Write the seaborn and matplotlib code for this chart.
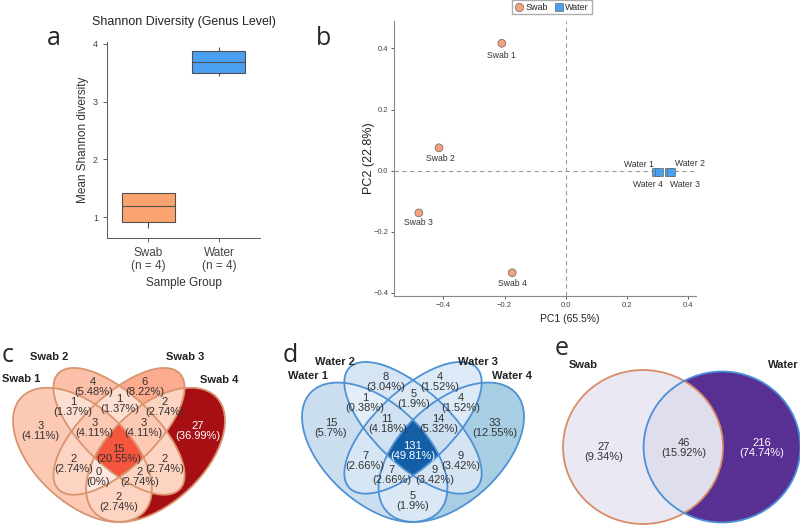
import numpy as np
import pandas as pd
import matplotlib.pyplot as plt
import seaborn as sns
from matplotlib.patches import Ellipse
from matplotlib.lines import Line2D

sns.set_theme(style="ticks")
plt.rcParams['font.family'] = ['Liberation Sans', 'DejaVu Sans']

# ---- data ----
# a: Shannon diversity per sample
shannon_swab = [0.81, 0.96, 1.42, 1.42]
shannon_water = [3.45, 3.50, 3.86, 3.94]
group_ticks = ["Swab\n(n = 4)", "Water\n(n = 4)"]

# b: PCA coordinates
pca_names = ["Swab 1", "Swab 2", "Swab 3", "Swab 4", "Water 1", "Water 2", "Water 3", "Water 4"]
pca_groups = ["Swab"] * 4 + ["Water"] * 4
pc1 = [-0.209, -0.414, -0.480, -0.175, 0.293, 0.337, 0.342, 0.303]
pc2 = [0.417, 0.075, -0.138, -0.334, -0.003, -0.004, -0.004, -0.003]

# c, d: 4-set venn region counts (digits = sets in region)
venn_regions = ["1", "2", "3", "4", "12", "13", "14", "23", "24", "34",
                "123", "124", "134", "234", "1234"]
swab_counts = [3, 4, 6, 27, 1, 2, 2, 1, 2, 2, 3, 2, 0, 3, 15]
water_counts = [15, 8, 4, 33, 1, 7, 5, 5, 9, 4, 11, 9, 7, 14, 131]
swab_sets = ["Swab 1", "Swab 2", "Swab 3", "Swab 4"]
water_sets = ["Water 1", "Water 2", "Water 3", "Water 4"]

# e: swab vs water
pair_sets = ["Swab", "Water"]
pair_regions = ["1", "12", "2"]
pair_counts = [27, 46, 216]

# ---- layout / style ----
W, H = 800, 525
SWAB_COL = "#fca46f"
WATER_COL = "#4a9ff0"
# venn geometry (VennDiagram style ellipses): cx, cy, a, b, angle
quad_shapes = [(0.35, 0.47, 0.35, 0.20, 135), (0.50, 0.57, 0.35, 0.15, 135),
               (0.50, 0.57, 0.35, 0.15, 45), (0.65, 0.47, 0.35, 0.20, 45)]
pair_shapes = [(0.0, 0.0, 1.0, 1.0, 0), (0.9875, 0.0, 0.98, 0.98, 0)]
label_offsets = {"Swab 1": (0, -9), "Swab 2": (1, -8), "Swab 3": (0, -7), "Swab 4": (0, -8),
                 "Water 1": (-12, 5), "Water 2": (15, 6), "Water 3": (10, -9), "Water 4": (-8, -9)}


def rect(l, t, r, b):
    return [l / W, 1 - b / H, (r - l) / W, (b - t) / H]


def in_shape(X, Y, s):
    cx, cy, a, b, ang = s
    t = np.deg2rad(ang)
    u = (X - cx) * np.cos(t) + (Y - cy) * np.sin(t)
    v = -(X - cx) * np.sin(t) + (Y - cy) * np.cos(t)
    return (u / a) ** 2 + (v / b) ** 2 <= 1


def outline(s, n=360):
    cx, cy, a, b, ang = s
    p = np.linspace(0, 2 * np.pi, n, endpoint=False)
    t = np.deg2rad(ang)
    x = cx + a * np.cos(p) * np.cos(t) - b * np.sin(p) * np.sin(t)
    y = cy + a * np.cos(p) * np.sin(t) + b * np.sin(p) * np.cos(t)
    return x, y


def region(masks, key):
    m = np.ones_like(masks[0])
    for i, mk in enumerate(masks):
        m &= mk if str(i + 1) in key else ~mk
    return m


def draw_venn(ax, shapes, keys, counts, cmap, lo, hi, gamma, edges, white_above, fs=8):
    counts = np.asarray(counts, float)
    total = counts.sum()
    frac = (counts / counts.max()) ** gamma
    xlim, ylim = ax.get_xlim(), ax.get_ylim()
    pos = ax.get_position()
    sx = pos.width * W / (xlim[1] - xlim[0])
    sy = pos.height * H / (ylim[1] - ylim[0])

    # fills
    X, Y = np.meshgrid(np.linspace(*xlim, 900), np.linspace(*ylim, 650))
    masks = [in_shape(X, Y, s) for s in shapes]
    rgba = np.ones(X.shape + (4,))
    rgba[..., 3] = 0
    for k, f in zip(keys, frac):
        rgba[region(masks, k)] = cmap(lo + (hi - lo) * f)
    ax.imshow(rgba, extent=(*xlim, *ylim), origin="lower", aspect="auto",
              interpolation="nearest", zorder=1)

    # label spot = centre of the largest inscribed circle of each region
    GX, GY = np.meshgrid(np.linspace(*xlim, 170), np.linspace(*ylim, 130))
    gmasks = [in_shape(GX, GY, s) for s in shapes]
    dist = np.full(GX.shape, np.inf)
    for s in shapes:
        bx, by = outline(s)
        d = np.hypot((GX[..., None] - bx) * sx, (GY[..., None] - by) * sy).min(axis=-1)
        dist = np.minimum(dist, d)
    for k, c, f in zip(keys, counts, frac):
        m = region(gmasks, k)
        i = np.argmax(np.where(m, dist, -1))
        pct = round(c / total * 100, 2)
        col = "white" if f > white_above else "#333333"
        ax.text(GX.flat[i], GY.flat[i], f"{int(c)}\n({pct:g}%)", ha="center", va="center",
                fontsize=fs, color=col, linespacing=1.0, zorder=3)

    for s, ec in zip(shapes, edges):
        cx, cy, a, b, ang = s
        ax.add_patch(Ellipse((cx, cy), 2 * a, 2 * b, angle=ang, fill=False, ec=ec,
                             lw=1.3, clip_on=False, zorder=2))
    ax.set_axis_off()


fig = plt.figure(figsize=(8, 5.25), dpi=100)

# ---- a: boxplot ----
ax_a = fig.add_axes(rect(107, 42, 260, 238))
df_a = pd.DataFrame({"group": ["Swab"] * 4 + ["Water"] * 4,
                     "shannon": shannon_swab + shannon_water})
sns.boxplot(data=df_a, x="group", y="shannon", hue="group", palette=[SWAB_COL, WATER_COL],
            saturation=1, width=0.75, linecolor="#505050", linewidth=0.8, showcaps=False,
            fliersize=0, legend=False, ax=ax_a)
ax_a.set_xlim(-0.58, 1.58)
ax_a.set_ylim(0.64, 4.03)
ax_a.set_yticks([1, 2, 3, 4])
ax_a.set_xticks([0, 1], group_ticks)
ax_a.tick_params(axis="x", labelsize=8.5, colors="#444444", length=3, width=0.6)
ax_a.tick_params(axis="y", labelsize=6.5, colors="#444444", length=3, width=0.6)
for t in ax_a.get_xticklabels():
    t.set_linespacing(1.1)
sns.despine(ax=ax_a)
for sp in ["left", "bottom"]:
    ax_a.spines[sp].set_color("#555555")
    ax_a.spines[sp].set_linewidth(0.7)
ax_a.set_ylabel("Mean Shannon diversity", fontsize=8.5, color="#333333")
ax_a.yaxis.set_label_coords(-0.115, 0.5)
ax_a.set_xlabel("Sample Group", fontsize=8.5, color="#333333")
ax_a.xaxis.set_label_coords(0.5, -0.2)
ax_a.text(0.5, 1.10, "Shannon Diversity (Genus Level)", transform=ax_a.transAxes,
          ha="center", va="center", fontsize=9, color="#222222")

# ---- b: PCA ----
ax_b = fig.add_axes(rect(394, 21, 696, 296))
df_b = pd.DataFrame({"name": pca_names, "group": pca_groups, "PC1": pc1, "PC2": pc2})
ax_b.axhline(0, color="#999999", lw=0.8, ls=(0, (4, 3)), zorder=0)
ax_b.axvline(0, color="#999999", lw=0.8, ls=(0, (4, 3)), zorder=0)
sns.scatterplot(data=df_b, x="PC1", y="PC2", hue="group", style="group",
                palette={"Swab": "#f4a27c", "Water": WATER_COL},
                markers={"Swab": "o", "Water": "s"}, s=32, edgecolor="#666666",
                linewidth=0.5, legend=False, ax=ax_b, zorder=3)
for _, r in df_b.iterrows():
    dx, dy = label_offsets[r["name"]]
    ax_b.annotate(r["name"], (r["PC1"], r["PC2"]), xytext=(dx, dy), textcoords="offset points",
                  ha="center", va="center", fontsize=6.2, color="#333333")
ax_b.set_xlim(-0.561, 0.425)
ax_b.set_ylim(-0.41, 0.49)
ax_b.set_xticks([-0.4, -0.2, 0.0, 0.2, 0.4])
ax_b.set_yticks([-0.4, -0.2, 0.0, 0.2, 0.4])
ax_b.tick_params(labelsize=5.5, colors="#444444", length=2.5, width=0.6, pad=1.5)
sns.despine(ax=ax_b)
for sp in ["left", "bottom"]:
    ax_b.spines[sp].set_color("#888888")
    ax_b.spines[sp].set_linewidth(0.8)
ax_b.set_xlabel("PC1 (65.5%)", fontsize=7.5, color="#222222")
ax_b.xaxis.set_label_coords(0.583, -0.064)
ax_b.set_ylabel("PC2 (22.8%)", fontsize=9, color="#222222")
ax_b.yaxis.set_label_coords(-0.062, 0.5)
handles = [Line2D([], [], marker="o", ls="", mfc="#f4a27c", mec="#666666", mew=0.5, ms=6),
           Line2D([], [], marker="s", ls="", mfc=WATER_COL, mec="#666666", mew=0.5, ms=6)]
fig.legend(handles, ["Swab", "Water"], loc="upper center", bbox_to_anchor=(552 / W, 1.0),
           ncol=2, fontsize=6.5, frameon=True, fancybox=False, edgecolor="#999999",
           borderpad=0.3, handletextpad=0.2, columnspacing=0.7, handlelength=1.0,
           borderaxespad=0)

# ---- c: swab venn ----
ax_c = fig.add_axes(rect(13, 368, 225, 522))
ax_c.set_xlim(0.065, 0.935)
ax_c.set_ylim(0.185, 0.839)
draw_venn(ax_c, quad_shapes, venn_regions, swab_counts, plt.get_cmap("Reds"),
          0.08, 0.86, 0.85, ["#d9956f"] * 4, 0.75)

# ---- d: water venn ----
ax_d = fig.add_axes(rect(302, 362, 524, 522))
ax_d.set_xlim(0.065, 0.935)
ax_d.set_ylim(0.185, 0.839)
draw_venn(ax_d, quad_shapes, venn_regions, water_counts, plt.get_cmap("Blues"),
          0.08, 0.82, 0.75, ["#4f91d4"] * 4, 0.75)

# ---- e: swab vs water venn ----
ax_e = fig.add_axes(rect(563, 370, 800, 524))
ax_e.set_xlim(-1.0, 1.9625)
ax_e.set_ylim(-1.0, 1.0)
draw_venn(ax_e, pair_shapes, pair_regions, pair_counts, plt.get_cmap("Purples"),
          0.05, 0.85, 1.0, ["#d98c66", "#4a8fd8"], 0.75)

# set names
bold = dict(fontsize=8, fontweight="bold", color="#222222", va="center")
fig.text(2 / W, 1 - 379 / H, swab_sets[0], ha="left", **bold)
fig.text(49 / W, 1 - 357 / H, swab_sets[1], ha="center", **bold)
fig.text(185 / W, 1 - 357 / H, swab_sets[2], ha="center", **bold)
fig.text(219 / W, 1 - 380 / H, swab_sets[3], ha="center", **bold)
fig.text(308 / W, 1 - 376 / H, water_sets[0], ha="center", **bold)
fig.text(335 / W, 1 - 362 / H, water_sets[1], ha="center", **bold)
fig.text(478 / W, 1 - 362 / H, water_sets[2], ha="center", **bold)
fig.text(512 / W, 1 - 376 / H, water_sets[3], ha="center", **bold)
fig.text(569 / W, 1 - 365 / H, pair_sets[0], ha="left", **bold)
fig.text(768 / W, 1 - 365 / H, pair_sets[1], ha="left", **bold)

# panel letters
for letter, x, y in [("a", 47, 45), ("b", 316, 45), ("c", 2, 362), ("d", 283, 362), ("e", 555, 355)]:
    fig.text(x / W, 1 - y / H, letter, fontsize=18, family="Open Sans", va="baseline", ha="left")

fig.savefig("out.png", dpi=100)
